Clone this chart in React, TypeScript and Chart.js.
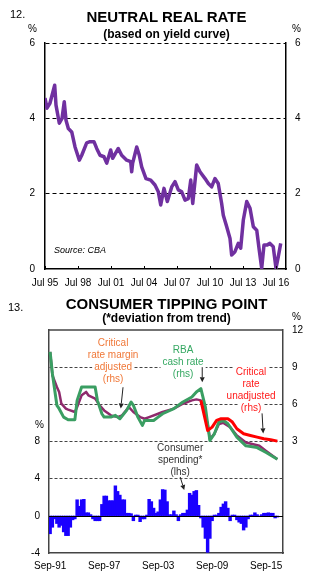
import React, { useEffect, useRef } from 'react';
import { Chart, registerables } from 'chart.js';

Chart.register(...registerables);

const FONT = '"Liberation Sans", Arial, Helvetica, sans-serif';
Chart.defaults.font.family = FONT;
Chart.defaults.color = '#000';

// ---------- Chart 12: Neutral real rate ----------
const neutralYears = [
  1995.50, 1995.68, 1995.95, 1996.38, 1996.50, 1996.80, 1997.05, 1997.25, 1997.41, 1997.62,
  1997.93, 1998.23, 1998.62, 1998.84, 1999.29, 1999.59, 1999.95, 2000.20, 2000.50, 2000.86,
  2001.11, 2001.47, 2001.65, 2002.16, 2002.47, 2002.93, 2003.29, 2003.38, 2003.47, 2003.84,
  2004.07, 2004.29, 2004.68, 2005.11, 2005.50, 2005.80, 2006.02, 2006.32, 2006.62, 2007.02,
  2007.32, 2007.62, 2007.93, 2008.23, 2008.53, 2008.75, 2008.93, 2009.29, 2009.59, 2010.05,
  2010.35, 2010.65, 2010.95, 2011.25, 2011.56, 2011.71, 2012.02, 2012.32, 2012.47, 2012.77,
  2013.07, 2013.29, 2013.53, 2013.84, 2014.14, 2014.44, 2014.75, 2014.98, 2015.20, 2015.41,
  2015.71, 2015.95, 2016.25, 2016.50, 2016.71, 2016.93,
];
const neutralValues = [
  4.54, 4.27, 4.40, 4.88, 4.35, 3.87, 4.00, 4.44, 3.95, 3.73,
  3.64, 3.24, 2.89, 3.02, 3.35, 3.38, 3.38, 3.20, 3.02, 2.98,
  2.81, 3.16, 2.94, 3.20, 3.02, 2.89, 2.85, 2.58, 2.81, 3.24,
  3.02, 2.71, 2.40, 2.36, 2.23, 2.05, 1.70, 2.14, 1.79, 2.18,
  2.32, 2.10, 2.05, 1.83, 1.87, 2.36, 1.74, 2.76, 2.58, 2.40,
  2.27, 2.18, 2.40, 2.27, 1.74, 1.43, 1.12, 0.81, 0.37, 0.46,
  0.68, 0.55, 1.30, 1.79, 1.61, 1.12, 1.03, 0.50, 0.02, 0.64,
  0.64, 0.68, 0.59, 0.02, 0.33, 0.68,
];
const neutralTickYears = [1995.5, 1998.5, 2001.5, 2004.5, 2007.5, 2010.5, 2013.5, 2016.5];
const neutralTickLabels = ['Jul 95', 'Jul 98', 'Jul 01', 'Jul 04', 'Jul 07', 'Jul 10', 'Jul 13', 'Jul 16'];

// ---------- Chart 13: Consumer tipping point ----------
const quarterMonths = ['Mar', 'Jun', 'Sep', 'Dec'];
const quarterLabels: string[] = [];
for (let i = 0; i < 104; i++) {
  const m = 2 + i; // Sep-91 is the third quarter of 1991
  const yr = 1991 + Math.floor(m / 4);
  quarterLabels.push(quarterMonths[m % 4] + '-' + String(yr % 100).padStart(2, '0'));
}
const quarterTickLabels = ['Sep-91', 'Sep-97', 'Sep-03', 'Sep-09', 'Sep-15'];

const spendingValues = [
  -1.9, -1.2, -0.3, -0.8, -1.2, -1.0, -1.7, -2.1, -2.1, -1.2,
  -0.4, -0.3, 1.7, 1.0, 1.7, 1.75, 0.3, 0.3, 0.1, -0.3,
  -0.5, -0.5, -0.5, 1.2, 2.1, 2.1, 1.6, 1.6, 1.6, 3.2,
  2.6, 2.2, 1.7, 1.7, 0.25, 0.25, 0.2, -0.5, 0.05, 0.05,
  -0.6, -0.3, -0.3, 0.05, 1.75, 1.5, 0.8, 0.25, 0.4, 1.7,
  2.8, 2.75, 1.5, 0.1, 0.1, 0.5, 0.1, -0.5, 0.1, 0.25,
  0.25, 0.6, 2.4, 2.2, 2.6, 2.7, 1.1, -0.2, -1.2, -2.4,
  -3.9, -2.4, -0.5, 0.05, 0.05, 0.25, 0.9, 1.25, 1.5, 0.8,
  -0.5, 0.05, 0.05, -0.4, -0.65, -0.8, -1.5, -1.2, -0.3, 0.05,
  0.05, 0.3, 0.1, -0.05, 0.1, 0.25, 0.25, 0.3, 0.25, 0.25,
  -0.2, -0.1,
];

const cashRateQ = [0, 1, 3, 4, 6, 8, 11, 12, 14, 20, 21, 23, 24, 27, 29, 31, 34, 36, 37, 39, 41, 42, 46, 48, 50, 55, 59, 63, 65, 67, 69, 70, 71, 73, 75, 77, 79, 81, 83, 87, 92, 96, 101];
const cashRateV = [10.24, 8.49, 5.92, 5.65, 4.97, 4.76, 4.76, 6.32, 7.40, 7.40, 6.32, 5.24, 4.97, 4.97, 5.11, 4.84, 5.51, 6.19, 5.92, 4.97, 4.30, 4.70, 4.70, 4.97, 5.24, 5.65, 6.19, 6.59, 7.0, 7.27, 5.78, 4.43, 3.08, 3.62, 4.57, 4.70, 4.43, 3.89, 3.35, 2.65, 2.51, 2.11, 1.57];

const marginQ = [0, 1, 3, 4, 5, 7, 8, 11, 12, 14, 16, 17, 20, 22, 24, 27, 30, 32, 35, 37, 40, 42, 44, 48, 50, 55, 59, 63, 65, 67, 70, 71, 73, 75, 77, 80, 83, 87, 93, 96, 101];
const marginV = [10.24, 8.35, 7.40, 7.00, 6.05, 5.65, 5.57, 5.38, 5.78, 6.73, 7.00, 6.73, 6.46, 5.92, 5.51, 5.11, 4.97, 5.11, 5.78, 5.38, 4.97, 4.84, 4.97, 5.24, 5.38, 5.65, 6.05, 6.32, 6.40, 6.32, 4.43, 3.20, 3.62, 4.40, 4.50, 4.16, 3.49, 2.92, 2.65, 2.24, 1.57];

const unadjQ = [67, 69, 70, 72, 74, 76, 79, 81, 83, 86, 89, 92, 95, 98, 101];
const unadjV = [6.32, 4.70, 3.89, 4.16, 4.70, 4.84, 4.84, 4.57, 4.03, 3.62, 3.49, 3.35, 3.22, 3.14, 3.03];

const toPoints = (q: number[], v: number[]) => q.map((qi, i) => ({ x: quarterLabels[qi], y: v[i] }));

// annotations (anchor in data units)
const notes = [
  { q: 28, v: 10.95, axis: 'y2', lines: ['Critical', 'rate margin', 'adjusted', '(rhs)'], color: '#F07838' },
  { q: 59.1, v: 10.38, axis: 'y2', lines: ['RBA', 'cash rate', '(rhs)'], color: '#35A862' },
  { q: 89.3, v: 8.59, axis: 'y2', lines: ['Critical', 'rate', 'unadjusted', '(rhs)'], color: '#FF1A1A' },
  { q: 57.8, v: 7.29, axis: 'y', lines: ['Consumer', 'spending*', '(lhs)'], color: '#333333' },
];
const arrows = [
  { q1: 32.4, v1: 7.38, q2: 31.4, v2: 5.67, axis: 'y2' },
  { q1: 67.6, v1: 9.0, q2: 67.6, v2: 7.78, axis: 'y2' },
  { q1: 94.2, v1: 5.27, q2: 94.7, v2: 3.65, axis: 'y2' },
  { q1: 57.8, v1: 4.18, q2: 59.6, v2: 2.79, axis: 'y' },
];

const innerTicks = {
  id: 'innerTicks',
  afterDraw(chart: any) {
    const { ctx, chartArea, scales } = chart;
    const x = scales.x;
    ctx.save();
    ctx.strokeStyle = '#000';
    ctx.lineWidth = 1;
    x.ticks.forEach((t: any) => {
      const px = Math.round(x.getPixelForValue(t.value)) + 0.5;
      ctx.beginPath();
      ctx.moveTo(px, chartArea.bottom);
      ctx.lineTo(px, chartArea.bottom - 3);
      ctx.stroke();
    });
    ctx.restore();
  },
};

const decor = {
  id: 'decor',
  beforeDatasetsDraw(chart: any) {
    const { ctx, scales } = chart;
    ctx.save();
    ctx.font = '10px ' + FONT;
    ctx.textAlign = 'center';
    ctx.textBaseline = 'middle';
    for (const n of notes) {
      const cx = scales.x.getPixelForValue(n.q);
      const y0 = scales[n.axis].getPixelForValue(n.v);
      n.lines.forEach((line, i) => {
        const w = ctx.measureText(line).width;
        ctx.fillStyle = '#fff';
        ctx.fillRect(cx - w / 2 - 2, y0 + i * 12 - 6, w + 4, 12);
      });
      ctx.fillStyle = n.color;
      n.lines.forEach((line, i) => ctx.fillText(line, cx, y0 + i * 12));
    }
    ctx.strokeStyle = '#222';
    ctx.fillStyle = '#222';
    ctx.lineWidth = 1;
    for (const a of arrows) {
      const x1 = scales.x.getPixelForValue(a.q1);
      const y1 = scales[a.axis].getPixelForValue(a.v1);
      const x2 = scales.x.getPixelForValue(a.q2);
      const y2 = scales[a.axis].getPixelForValue(a.v2);
      const ang = Math.atan2(y2 - y1, x2 - x1);
      const L = 5, H = 2.5;
      const bx = x2 - L * Math.cos(ang), by = y2 - L * Math.sin(ang);
      ctx.beginPath();
      ctx.moveTo(x1, y1);
      ctx.lineTo(bx, by);
      ctx.stroke();
      ctx.beginPath();
      ctx.moveTo(x2, y2);
      ctx.lineTo(bx + H * Math.sin(ang), by - H * Math.cos(ang));
      ctx.lineTo(bx - H * Math.sin(ang), by + H * Math.cos(ang));
      ctx.closePath();
      ctx.fill();
    }
    ctx.restore();
  },
  afterDatasetsDraw(chart: any) {
    const { ctx, chartArea, scales } = chart;
    ctx.save();
    ctx.strokeStyle = '#000';
    ctx.lineWidth = 1;
    const y0 = Math.round(scales.y.getPixelForValue(0)) + 0.5;
    ctx.beginPath();
    ctx.moveTo(chartArea.left, y0);
    ctx.lineTo(chartArea.right, y0);
    ctx.stroke();
    ctx.strokeStyle = '#444';
    ctx.lineWidth = 1.5;
    ctx.beginPath();
    ctx.moveTo(chartArea.left, chartArea.top);
    ctx.lineTo(chartArea.right, chartArea.top);
    ctx.stroke();
    ctx.restore();
  },
};

function NeutralChart() {
  const ref = useRef<HTMLCanvasElement>(null);
  useEffect(() => {
    const chart = new Chart(ref.current as HTMLCanvasElement, {
      type: 'line',
      data: {
        datasets: [
          {
            data: neutralYears.map((x, i) => ({ x, y: neutralValues[i] })),
            borderColor: '#7030A0',
            borderWidth: 3.5,
            pointRadius: 0,
            tension: 0,
            borderJoinStyle: 'round',
            yAxisID: 'y',
          },
        ],
      },
      options: {
        responsive: false,
        animation: false,
        events: [],
        layout: { padding: { top: 43, left: 0, right: 0, bottom: 0 } },
        plugins: { legend: { display: false }, tooltip: { enabled: false } },
        scales: {
          x: {
            type: 'linear',
            min: 1995.5,
            max: 2017.41,
            afterBuildTicks: (s: any) => {
              s.ticks = neutralTickYears.map((value) => ({ value }));
            },
            ticks: {
              callback: (v: any) => neutralTickLabels[neutralTickYears.indexOf(v)] ?? '',
              font: { size: 10 },
              color: '#000',
              padding: 8,
              maxRotation: 0,
              autoSkip: false,
            },
            grid: { display: false, drawTicks: false },
            border: { display: true, color: '#000', width: 1.5 },
            afterFit: (s: any) => {
              s.height = 21;
            },
          },
          y: {
            position: 'left',
            min: 0,
            max: 6,
            ticks: { stepSize: 2, font: { size: 10 }, color: '#000', padding: 10 },
            grid: {
              color: (c: any) => (c.tick && c.tick.value === 0 ? 'rgba(0,0,0,0)' : '#000'),
              lineWidth: 1,
              drawTicks: false,
            },
            border: { display: true, color: '#000', width: 1.5, dash: [4, 3] },
            afterFit: (s: any) => {
              s.width = 45;
            },
          },
          y2: {
            position: 'right',
            min: 0,
            max: 6,
            ticks: { stepSize: 2, font: { size: 10 }, color: '#000', padding: 9 },
            grid: { display: false, drawTicks: false },
            border: { display: true, color: '#000', width: 1.5 },
            afterFit: (s: any) => {
              s.width = 47;
            },
          },
        },
      },
      plugins: [innerTicks],
    } as any);
    return () => chart.destroy();
  }, []);
  return (
    <canvas
      ref={ref}
      width={333}
      height={290}
      style={{ position: 'absolute', left: 0, top: 0, width: 333, height: 290, display: 'block' }}
    />
  );
}

function TippingChart() {
  const ref = useRef<HTMLCanvasElement>(null);
  useEffect(() => {
    const chart = new Chart(ref.current as HTMLCanvasElement, {
      type: 'bar',
      data: {
        labels: quarterLabels,
        datasets: [
          {
            type: 'line',
            data: toPoints(unadjQ, unadjV),
            borderColor: '#FF0000',
            borderWidth: 3,
            pointRadius: 0,
            tension: 0,
            borderJoinStyle: 'round',
            yAxisID: 'y2',
            order: 0,
          },
          {
            type: 'line',
            data: toPoints(cashRateQ, cashRateV),
            borderColor: '#3A9E62',
            borderWidth: 3,
            pointRadius: 0,
            tension: 0,
            borderJoinStyle: 'round',
            yAxisID: 'y2',
            order: 1,
          },
          {
            type: 'line',
            data: toPoints(marginQ, marginV),
            borderColor: '#8E2A6C',
            borderWidth: 2.5,
            pointRadius: 0,
            tension: 0,
            borderJoinStyle: 'round',
            yAxisID: 'y2',
            order: 2,
          },
          {
            type: 'bar',
            data: spendingValues,
            backgroundColor: '#1A00FF',
            borderWidth: 0,
            barPercentage: 1,
            categoryPercentage: 1,
            inflateAmount: 0.6,
            yAxisID: 'y',
            order: 3,
          },
        ],
      },
      options: {
        responsive: false,
        animation: false,
        events: [],
        layout: { padding: { top: 40, left: 0, right: 0, bottom: 0 } },
        plugins: { legend: { display: false }, tooltip: { enabled: false } },
        scales: {
          x: {
            type: 'category',
            offset: true,
            ticks: {
              autoSkip: false,
              maxRotation: 0,
              font: { size: 10 },
              color: '#000',
              padding: 7,
              callback: (_v: any, i: number) =>
                quarterTickLabels.includes(quarterLabels[i]) ? quarterLabels[i] : '',
            },
            grid: { display: false, drawTicks: false },
            border: { display: true, color: '#444', width: 1.5 },
            afterFit: (s: any) => {
              s.height = 30;
            },
          },
          y: {
            position: 'left',
            min: -4,
            max: 20,
            ticks: {
              stepSize: 4,
              font: { size: 10 },
              color: '#000',
              padding: 9,
              callback: (v: any) => (v <= 8 ? String(v) : ''),
            },
            grid: {
              color: (c: any) =>
                c.tick && [4, 8, 12, 16].includes(c.tick.value) ? '#444' : 'rgba(0,0,0,0)',
              lineWidth: 1,
              drawTicks: false,
            },
            border: { display: true, color: '#444', width: 1.5, dash: [3, 2] },
            afterFit: (s: any) => {
              s.width = 49;
            },
          },
          y2: {
            position: 'right',
            min: -6,
            max: 12,
            ticks: {
              stepSize: 3,
              font: { size: 10 },
              color: '#000',
              padding: 9,
              callback: (v: any) => (v >= 3 ? String(v) : ''),
            },
            grid: { display: false, drawTicks: false },
            border: { display: true, color: '#444', width: 1.5 },
            afterFit: (s: any) => {
              s.width = 50;
            },
          },
        },
      },
      plugins: [decor],
    } as any);
    return () => chart.destroy();
  }, []);
  return (
    <canvas
      ref={ref}
      width={333}
      height={293}
      style={{ position: 'absolute', left: 0, top: 290, width: 333, height: 293, display: 'block' }}
    />
  );
}

function Txt(props: {
  children: React.ReactNode;
  top: number;
  left?: number;
  size: number;
  bold?: boolean;
  italic?: boolean;
  center?: boolean;
}) {
  const { children, top, left, size, bold, italic, center } = props;
  const style: React.CSSProperties = {
    position: 'absolute',
    top,
    fontFamily: FONT,
    fontSize: size,
    lineHeight: size + 'px',
    fontWeight: bold ? 700 : 400,
    fontStyle: italic ? 'italic' : 'normal',
    color: '#000',
    whiteSpace: 'nowrap',
  };
  if (center) {
    style.left = 0;
    style.width = 333;
    style.textAlign = 'center';
  } else {
    style.left = left;
  }
  return <div style={style}>{children}</div>;
}

export default function App() {
  return (
    <div
      style={{
        position: 'absolute',
        left: 0,
        top: 0,
        width: 333,
        height: 583,
        background: '#fff',
        overflow: 'hidden',
      }}
    >
      <NeutralChart />
      <TippingChart />
      <Txt top={9} left={10} size={11}>12.</Txt>
      <Txt top={8.7} center size={15} bold>NEUTRAL REAL RATE</Txt>
      <Txt top={27.7} center size={12} bold>(based on yield curve)</Txt>
      <Txt top={23.7} left={28} size={10}>%</Txt>
      <Txt top={23.7} left={292} size={10}>%</Txt>
      <Txt top={246} left={54} size={9} italic>Source: CBA</Txt>
      <Txt top={302} left={8} size={11}>13.</Txt>
      <Txt top={296.3} center size={15} bold>CONSUMER TIPPING POINT</Txt>
      <Txt top={312.4} center size={12} bold>(*deviation from trend)</Txt>
      <Txt top={311.7} left={292} size={10}>%</Txt>
      <Txt top={420.4} left={35} size={10}>%</Txt>
    </div>
  );
}
